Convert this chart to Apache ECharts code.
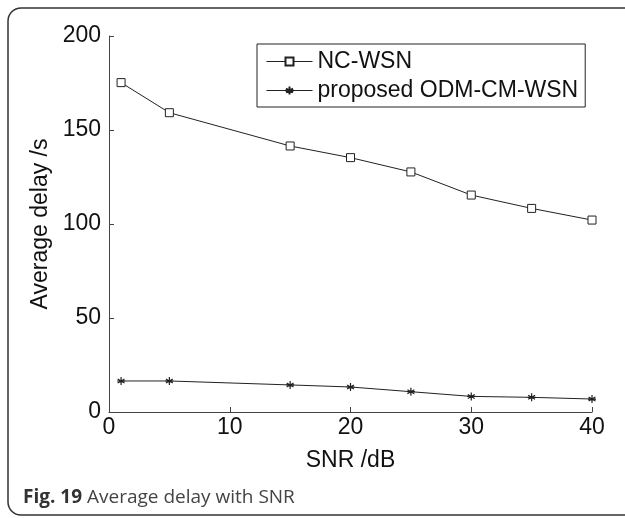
<!DOCTYPE html>
<html>
<head>
<meta charset="utf-8">
<script src="https://cdn.jsdelivr.net/npm/echarts@6/dist/echarts.min.js"></script>
<style>html,body{margin:0;padding:0;background:#fff;}#c{width:625px;height:518px;}</style>
</head>
<body>
<div id="c"></div>
<script>
const snr = [1, 5, 15, 20, 25, 30, 35, 40];
const ncWsn = [175.2, 159.2, 141.5, 135.3, 127.7, 115.4, 108.3, 102.1];
const proposed = [16.5, 16.5, 14.4, 13.3, 10.8, 8.3, 7.8, 6.9];
const seriesNames = ['NC-WSN', 'proposed ODM-CM-WSN'];
const xTicks = [0, 10, 20, 30, 40];
const yTicks = [0, 50, 100, 150, 200];
const xTitle = 'SNR /dB';
const yTitle = 'Average delay /s';

const font = 'Liberation Sans, Arial, Helvetica, sans-serif';
const star = 'path://M5,0L5,10M0.7,2.5L9.3,7.5M0.7,7.5L9.3,2.5M0,5L10,5';

const chart = echarts.init(document.getElementById('c'), null, {renderer: 'canvas'});
chart.setOption({
  backgroundColor: '#fff',
  animation: false,
  grid: {left: 109, right: 33, top: 36, bottom: 106},
  graphic: [
    {type: 'rect', shape: {x: 8, y: 8, width: 660, height: 507, r: 13},
     style: {fill: 'none', stroke: '#333', lineWidth: 1.5}, z: 0},
    {type: 'text', left: 23, top: 488,
     style: {text: '{b|Fig. 19} Average delay with SNR',
       font: '19px "Open Sans", "Noto Sans", sans-serif', fill: '#444',
       rich: {b: {fontWeight: 'bold', fontSize: 19, fontFamily: '"Open Sans", "Noto Sans", sans-serif', fill: '#333'}}}}
  ],
  legend: {
    orient: 'vertical', left: 257, top: 44,
    padding: [6, 7, 5, 9], itemGap: 6,
    itemWidth: 46, itemHeight: 10,
    borderColor: '#222', borderWidth: 1, backgroundColor: '#fff',
    lineStyle: {width: 1},
    textStyle: {fontFamily: font, fontSize: 23, color: '#111'},
    data: seriesNames
  },
  xAxis: {
    type: 'value', min: 0, max: 40, interval: 10,
    name: xTitle, nameLocation: 'middle', nameGap: 37,
    nameTextStyle: {fontFamily: font, fontSize: 23, color: '#111'},
    axisLine: {lineStyle: {color: '#444', width: 1}},
    axisTick: {inside: true, length: 5, lineStyle: {color: '#444'}},
    axisLabel: {fontFamily: font, fontSize: 23, color: '#111', margin: 4,
      formatter: v => xTicks.includes(v) ? String(v) : ''},
    splitLine: {show: false}
  },
  yAxis: {
    type: 'value', min: 0, max: 200, interval: 50,
    name: yTitle, nameLocation: 'middle', nameGap: 53, nameRotate: 90,
    nameTextStyle: {fontFamily: font, fontSize: 23, color: '#111'},
    axisLine: {show: true, lineStyle: {color: '#444', width: 1}},
    axisTick: {show: true, inside: true, length: 5, lineStyle: {color: '#444'}},
    axisLabel: {fontFamily: font, fontSize: 23, color: '#111', margin: 8,
      formatter: v => yTicks.includes(v) ? String(v) : ''},
    splitLine: {show: false}
  },
  series: [
    {name: seriesNames[0], type: 'line', data: snr.map((x, i) => [x, ncWsn[i]]),
     symbol: 'rect', symbolSize: 8,
     lineStyle: {color: '#222', width: 1},
     itemStyle: {color: '#fff', borderColor: '#222', borderWidth: 1}},
    {name: seriesNames[1], type: 'line', data: snr.map((x, i) => [x, proposed[i]]),
     symbol: star, symbolSize: 8,
     lineStyle: {color: '#222', width: 1},
     itemStyle: {color: '#222', borderColor: '#222', borderWidth: 1.2}}
  ]
});
</script>
</body>
</html>
